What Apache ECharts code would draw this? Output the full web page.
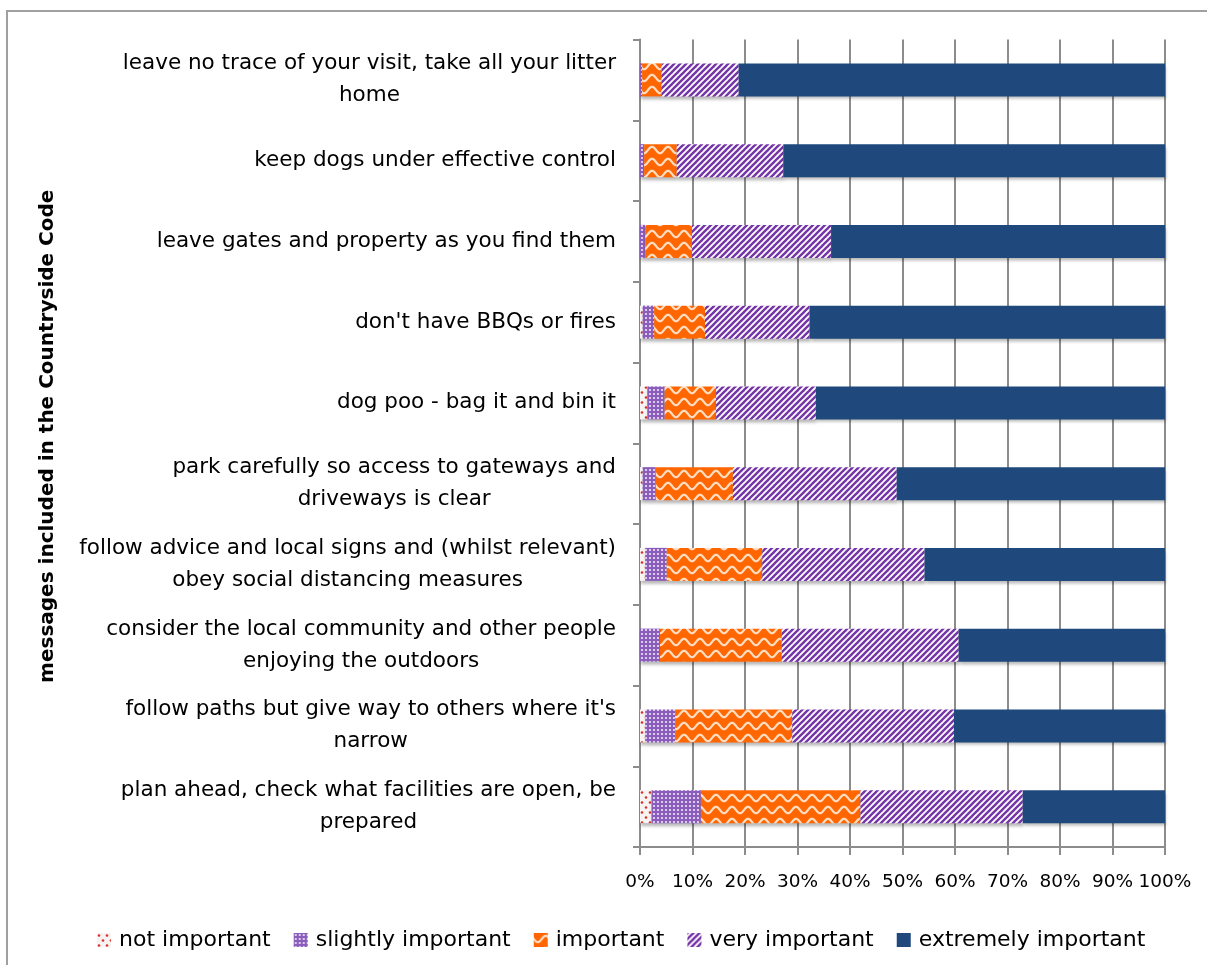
<!DOCTYPE html>
<html>
<head>
<meta charset="utf-8">
<script src="https://cdn.jsdelivr.net/npm/echarts@6/dist/echarts.min.js"></script>
<style>
html,body{margin:0;padding:0;background:#fff;}
#chart{width:1207px;height:965px;}
</style>
</head>
<body>
<div id="chart"></div>
<script>
// ---- data ----
var categories = [
  "leave no trace of your visit, take all your litter\nhome",
  "keep dogs under effective control",
  "leave gates and property as you find them",
  "don't have BBQs or fires",
  "dog poo - bag it and bin it",
  "park carefully so access to gateways and\ndriveways is clear",
  "follow advice and local signs and (whilst relevant)\nobey social distancing measures",
  "consider the local community and other people\nenjoying the outdoors",
  "follow paths but give way to others where it's\nnarrow",
  "plan ahead, check what facilities are open, be\nprepared"
];
var seriesNames = ["not important", "slightly important", "important", "very important", "extremely important"];
var notImportant       = [0,    0,    0,    0.5,  1.4,  0.5,  1.0,  0,    1.0,  2.2];
var slightlyImportant  = [0.4,  0.8,  1.0,  2.2,  3.3,  2.5,  4.1,  3.8,  5.7,  9.4];
var important          = [3.7,  6.2,  8.9,  9.7,  9.8,  14.7, 18.2, 23.2, 22.3, 30.4];
var veryImportant      = [14.7, 20.3, 26.5, 19.9, 19.0, 31.2, 30.9, 33.7, 30.8, 30.9];
var extremelyImportant = [81.2, 72.7, 63.6, 67.7, 66.5, 51.1, 45.8, 39.3, 40.2, 27.1];
var axisTitle = "messages included in the Countryside Code";
var xTicks = { min: 0, max: 100, interval: 10 };

// ---- patterns ----
function tile(w, h, draw) {
  var c = document.createElement('canvas');
  c.width = w; c.height = h;
  draw(c.getContext('2d'), w, h);
  return { image: c, repeat: 'repeat' };
}
var patNot = tile(8, 10, function (g, w, h) {
  g.fillStyle = '#f8f3f3'; g.fillRect(0, 0, w, h);
  g.fillStyle = '#d8322c';
  g.beginPath(); g.arc(2, 2.5, 1.3, 0, Math.PI * 2); g.fill();
  g.beginPath(); g.arc(6, 7.5, 1.3, 0, Math.PI * 2); g.fill();
});
var patSlight = tile(4, 4, function (g, w, h) {
  g.fillStyle = '#8a5cbc'; g.fillRect(0, 0, w, h);
  g.fillStyle = '#efe6f7';
  g.beginPath(); g.arc(2, 2, 1.1, 0, Math.PI * 2); g.fill();
});
var patImp = tile(16, 12, function (g, w, h) {
  g.fillStyle = '#ff6600'; g.fillRect(0, 0, w, h);
  g.strokeStyle = '#ffdcc0'; g.lineWidth = 2.3;
  g.beginPath();
  for (var x = -1; x <= w + 1; x += 0.5) {
    var y = 6 + 3.2 * Math.sin(2 * Math.PI * x / w);
    if (x === -1) g.moveTo(x, y); else g.lineTo(x, y);
  }
  g.stroke();
});
var patVery = tile(6, 6, function (g, w, h) {
  g.fillStyle = '#ffffff'; g.fillRect(0, 0, w, h);
  g.strokeStyle = '#7534a8'; g.lineWidth = 2.4;
  for (var k = -1; k <= 1; k++) {
    g.beginPath();
    g.moveTo(-1 + k * w, h + 1);
    g.lineTo(w + 1 + k * w, -1);
    g.stroke();
  }
});
var colExtreme = '#1f497d';
var fills = [patNot, patSlight, patImp, patVery, colExtreme];
var values = [notImportant, slightlyImportant, important, veryImportant, extremelyImportant];

var FONT = '"DejaVu Sans", sans-serif';
var grey = '#8c8c8c';

var chart = echarts.init(document.getElementById('chart'), null, { renderer: 'canvas' });

var series = seriesNames.map(function (name, i) {
  return {
    name: name,
    type: 'bar',
    stack: 'total',
    barWidth: 33,
    data: values[i],
    itemStyle: {
      color: fills[i],
      shadowColor: 'rgba(0,0,0,0.28)',
      shadowBlur: 3,
      shadowOffsetX: 1,
      shadowOffsetY: 3
    },
    emphasis: { disabled: true }
  };
});

var option = {
  animation: false,
  backgroundColor: '#ffffff',
  textStyle: { fontFamily: FONT },
  graphic: [{
    type: 'rect',
    z: -10,
    shape: { x: 7, y: 11, width: 1300, height: 1000 },
    style: { fill: 'none', stroke: '#a0a0a0', lineWidth: 2 }
  }],
  grid: { left: 640, right: 42, top: 39.5, bottom: 118, containLabel: false },
  legend: {
    left: 92,
    top: 924,
    itemWidth: 14,
    itemHeight: 14,
    itemGap: 23,
    icon: 'rect',
    data: seriesNames,
    textStyle: { fontFamily: FONT, fontSize: 22, color: '#000', padding: [0, 0, 0, 3] }
  },
  xAxis: {
    type: 'value',
    min: xTicks.min,
    max: xTicks.max,
    interval: xTicks.interval,
    axisLine: { show: true, lineStyle: { color: grey, width: 2 } },
    axisTick: { show: true, length: 8, lineStyle: { color: grey, width: 2 } },
    splitLine: { show: true, lineStyle: { color: grey, width: 2 } },
    axisLabel: {
      formatter: '{value}%',
      fontFamily: FONT,
      fontSize: 18.5,
      color: '#000',
      margin: 26
    }
  },
  yAxis: {
    type: 'category',
    inverse: true,
    data: categories,
    name: axisTitle,
    nameLocation: 'middle',
    nameRotate: 90,
    nameGap: 582,
    nameTextStyle: { fontFamily: FONT, fontSize: 20, fontWeight: 'bold', color: '#000', padding: [0, 0, 0, 14] },
    axisLine: { show: true, lineStyle: { color: grey, width: 2 } },
    axisTick: { show: true, length: 7, lineStyle: { color: grey, width: 2 } },
    splitLine: { show: false },
    axisLabel: {
      interval: 0,
      margin: 24,
      fontFamily: FONT,
      fontSize: 21.5,
      color: '#000',
      lineHeight: 32,
      formatter: function (v) {
        return v.split('\n').map(function (l) { return '{c|' + l + '}'; }).join('\n');
      },
      rich: {
        c: { align: 'center', fontFamily: FONT, fontSize: 21.5, lineHeight: 32, color: '#000' }
      }
    }
  },
  series: series
};
chart.setOption(option);
</script>
</body>
</html>
